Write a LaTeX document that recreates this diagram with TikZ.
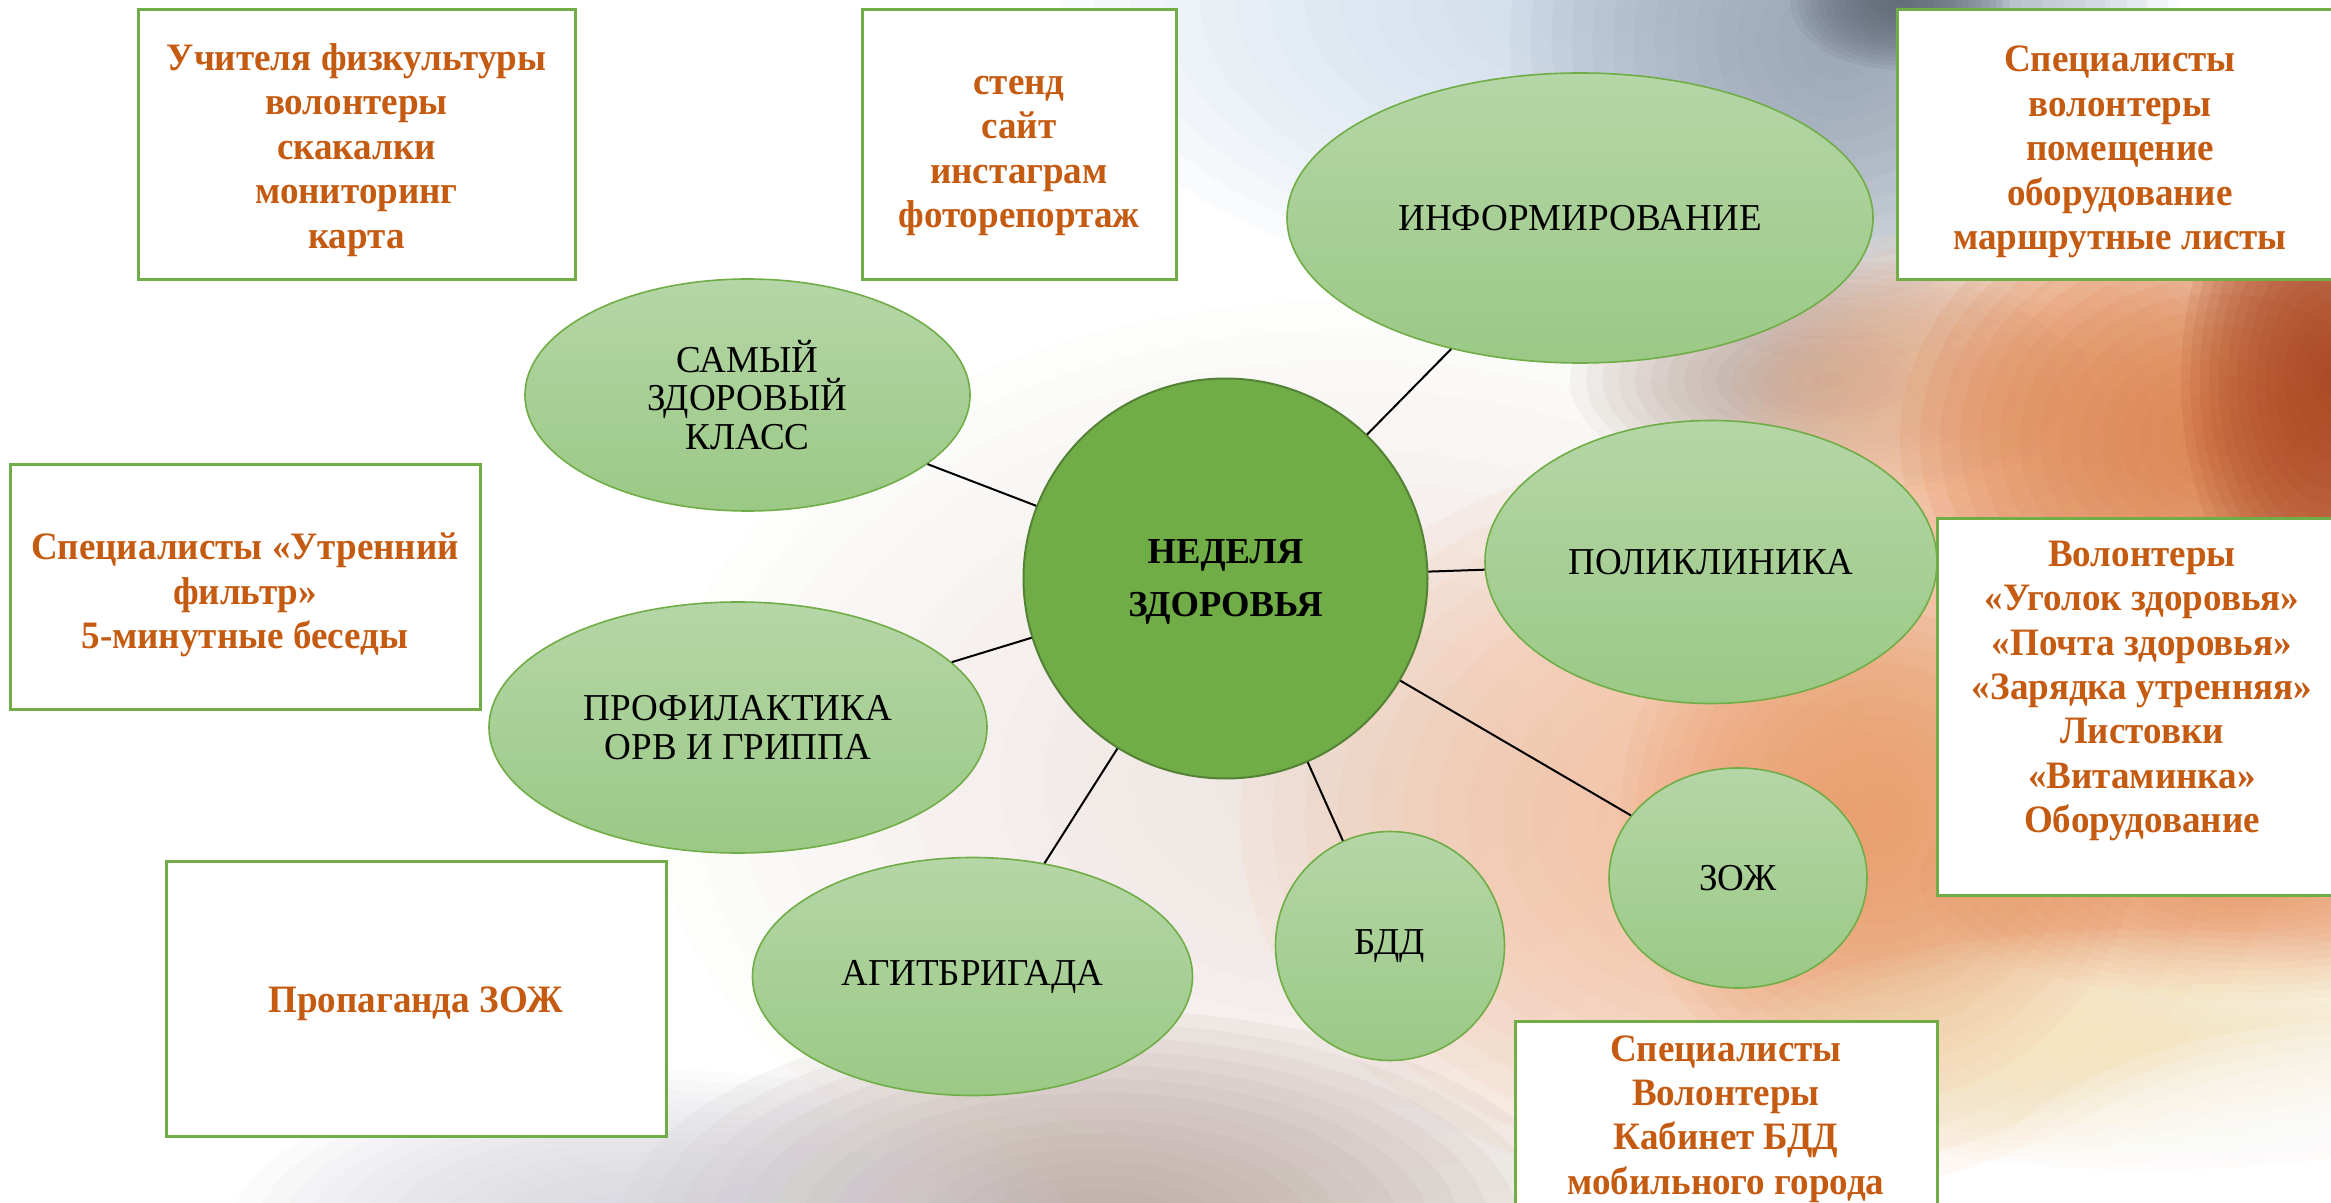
\documentclass[tikz,border=0pt]{standalone}
\usepackage{fontspec}
\setmainfont{Liberation Serif}
\newfontfamily\boxfont{Liberation Serif}[FakeStretch=0.955]
\newfontfamily\bubfont{Liberation Serif}[FakeStretch=0.975]
\usetikzlibrary{shapes.geometric}
\definecolor{boxgreen}{HTML}{70AD47}
\definecolor{txtorange}{HTML}{C55A11}
\definecolor{elltop}{HTML}{B5D6A7}
\definecolor{ellbot}{HTML}{9BC985}
\definecolor{hubfill}{HTML}{70AD47}
\definecolor{hubdraw}{HTML}{548235}
\definecolor{bgA}{HTML}{C4D6EA}
\definecolor{bgB}{HTML}{8C98A8}
\definecolor{bgC}{HTML}{5C6270}
\definecolor{bgD}{HTML}{E9D8D2}
\definecolor{bgE}{HTML}{B8A49E}
\definecolor{bgF}{HTML}{D0D0D8}
\definecolor{bgG}{HTML}{F3BC98}
\definecolor{bgH}{HTML}{DC7E48}
\definecolor{bgP}{HTML}{F6B890}
\definecolor{bgI}{HTML}{A84420}
\definecolor{bgJ}{HTML}{E89058}
\definecolor{bgK}{HTML}{F4E4BC}
\definecolor{bgL}{HTML}{A58A7E}
\definecolor{bgM}{HTML}{EA9C68}
\newcommand\haze[6]{%
  \foreach \hk in {1,...,16}{%
    \fill[#1,opacity=#6] (#2,#3) ellipse [x radius={#4*\hk/16}, y radius={#5*\hk/16}];}}
\tikzset{
  infobox/.style={draw=boxgreen, line width=1.5pt, fill=white, inner sep=0pt},
  boxtext/.style={text=txtorange, font=\boxfont\bfseries\fontsize{19.4}{22.2}\selectfont, align=center, inner sep=0pt, yshift=-2.5pt},
  bubble/.style={ellipse, draw=boxgreen, line width=0.8pt, top color=elltop, bottom color=ellbot, inner sep=0pt, font=\bubfont\fontsize{19}{19.3}\selectfont, align=center},
  hub/.style={ellipse, draw=hubdraw, line width=1pt, fill=hubfill, inner sep=0pt},
  hubtext/.style={font=\bfseries\fontsize{18.3}{26.7}\selectfont, align=center, inner sep=0pt},
  link/.style={draw=black, line width=1pt}
}
\begin{document}
\begin{tikzpicture}[x=0.5pt,y=-0.5pt]
\useasboundingbox (0,0) rectangle (2331,1203);
\clip (0,0) rectangle (2331,1203);
\fill[white] (0,0) rectangle (2331,1203);
% background haze
\haze{bgA}{1620}{0}{560}{300}{0.08}
\haze{bgB}{1840}{40}{330}{320}{0.08}
\haze{bgC}{1900}{0}{110}{70}{0.10}
\haze{bgD}{1350}{780}{700}{480}{0.05}
\haze{bgL}{1830}{380}{260}{120}{0.08}
\haze{bgG}{1760}{820}{520}{380}{0.10}
\haze{bgM}{1880}{820}{260}{280}{0.10}
\haze{bgP}{1990}{420}{260}{200}{0.10}
\haze{bgH}{2220}{440}{320}{260}{0.12}
\haze{bgI}{2331}{380}{150}{250}{0.12}
\haze{bgJ}{2250}{880}{330}{120}{0.10}
\haze{bgK}{2150}{1050}{420}{120}{0.10}
\haze{white}{2380}{1230}{420}{210}{0.18}
\haze{bgE}{1100}{1230}{480}{220}{0.10}
\haze{bgF}{650}{1230}{420}{160}{0.08}

% boxes
\node[infobox, minimum width=218.5pt, minimum height=135pt] (b1) at (356.5,145) {};
\node[boxtext] (t1) at (b1.center) {Учителя физкультуры\\волонтеры\\скакалки\\мониторинг\\карта};
\node[infobox, minimum width=157pt, minimum height=135pt] (b2) at (1019,145) {};
\node[boxtext, yshift=-3pt] (t2) at (b2.center) {стенд\\сайт\\инстаграм\\фоторепортаж};
\node[infobox, minimum width=224pt, minimum height=135pt] (b3) at (2121,145) {};
\node[boxtext] (t3) at (2120,147) {Специалисты\\волонтеры\\помещение\\оборудование\\маршрутные листы};
\node[infobox, minimum width=235pt, minimum height=122pt] (b4) at (245,587) {};
\node[boxtext] (t4) at (245,590) {Специалисты «Утренний\\фильтр»\\5-минутные беседы};
\node[infobox, minimum width=250pt, minimum height=137.5pt] (b5) at (416,998.5) {};
\node[boxtext] (t5) at (b5.center) {Пропаганда ЗОЖ};
\node[infobox, minimum width=205pt, minimum height=188pt] (b6) at (2142,707) {};
\node[boxtext] (t6) at (2142,686) {Волонтеры\\«Уголок здоровья»\\«Почта здоровья»\\«Зарядка утренняя»\\Листовки\\«Витаминка»\\Оборудование};
\node[infobox, minimum width=211pt, minimum height=97pt] (b7) at (1726,1118) {};
\node[boxtext] (t7) at (1726,1114) {Специалисты\\Волонтеры\\Кабинет БДД\\мобильного города};

% hub and bubbles
\node[hub, minimum width=202pt, minimum height=200pt] (hub) at (1225.5,578.5) {};
\node[hubtext] (hubt) at (1225.5,582) {НЕДЕЛЯ\\ЗДОРОВЬЯ};
\node[bubble, minimum width=222.5pt, minimum height=116pt] (klass) at (747.5,395) {САМЫЙ\\ЗДОРОВЫЙ\\КЛАСС};
\node[bubble, minimum width=293pt, minimum height=145pt] (inform) at (1580,218) {ИНФОРМИРОВАНИЕ};
\node[bubble, minimum width=226pt, minimum height=141.5pt] (poli) at (1711,562) {ПОЛИКЛИНИКА};
\node[bubble, minimum width=129pt, minimum height=110pt] (zozh) at (1738,878) {ЗОЖ};
\node[bubble, minimum width=114.5pt, minimum height=114.5pt] (bdd) at (1390,946) {БДД};
\node[bubble, minimum width=220pt, minimum height=119pt] (agit) at (972.5,976.5) {АГИТБРИГАДА};
\node[bubble, minimum width=249pt, minimum height=125.5pt] (prof) at (738,727.5) {ПРОФИЛАКТИКА\\ОРВ И ГРИППА};

% connectors
\draw[link] (hub) -- (klass);
\draw[link] (hub) -- (inform);
\draw[link] (hub) -- (poli);
\draw[link] (hub) -- (zozh);
\draw[link] (hub) -- (bdd);
\draw[link] (hub) -- (agit);
\draw[link] (hub) -- (prof);
\end{tikzpicture}
\end{document}
